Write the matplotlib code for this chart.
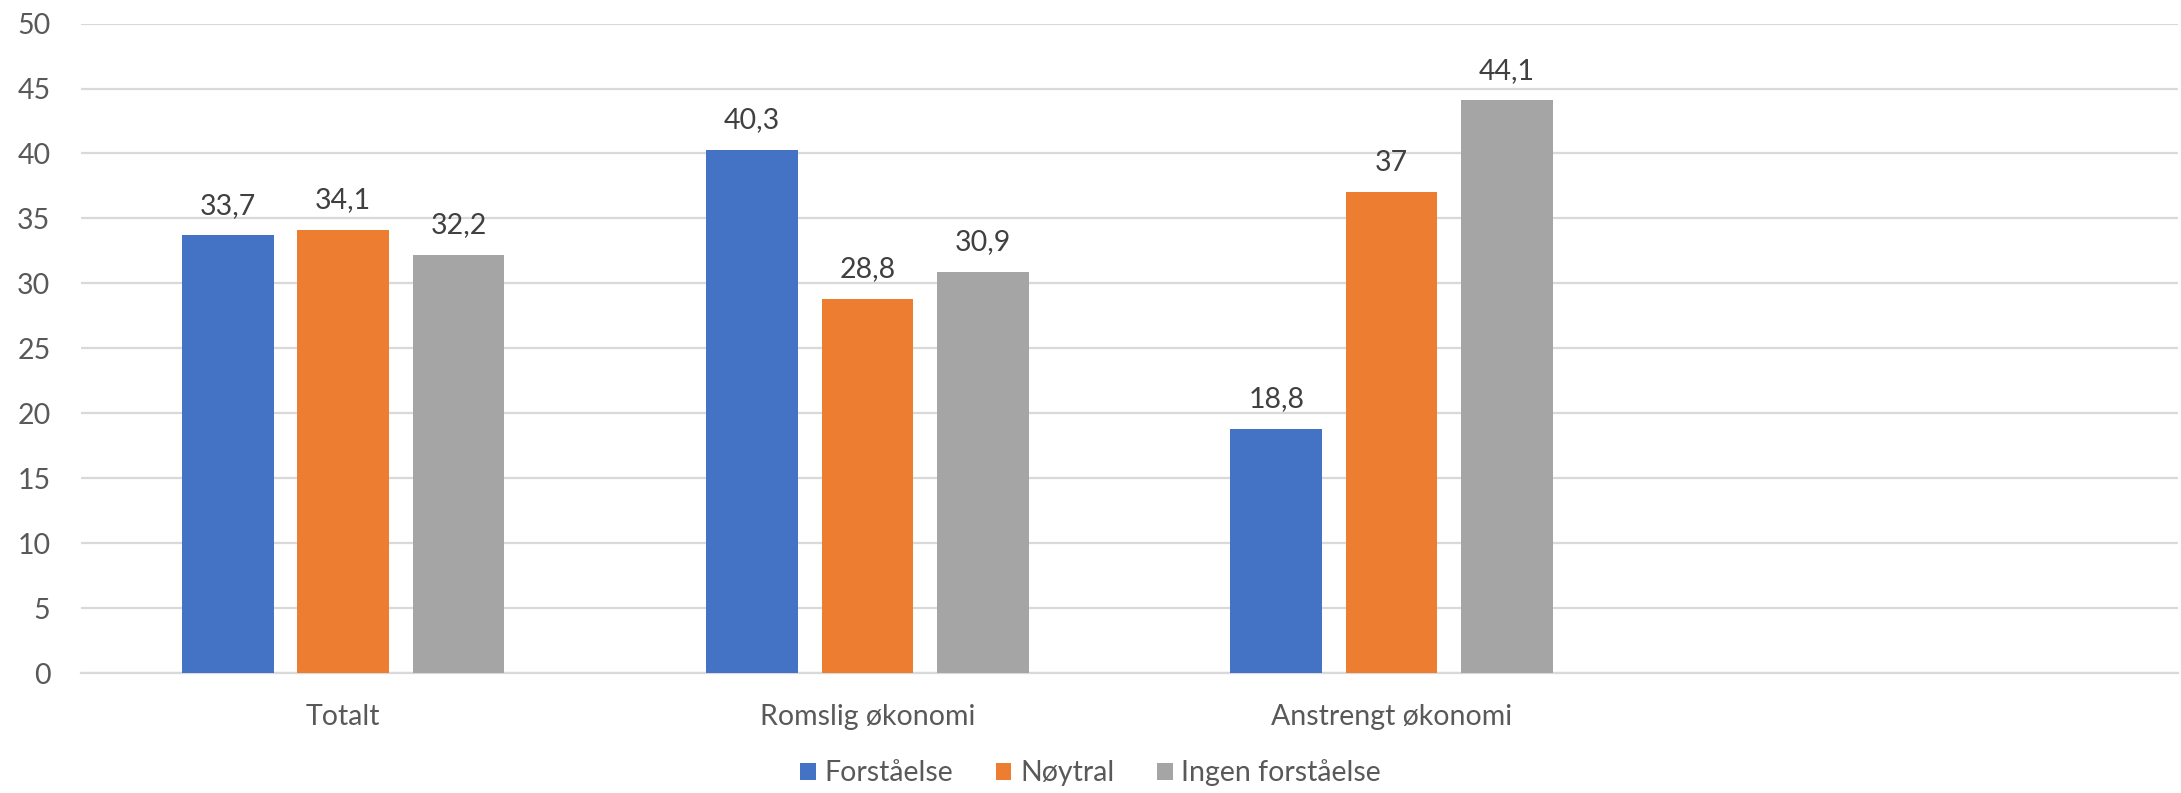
import matplotlib.pyplot as plt
import numpy as np

plt.rcParams['font.family'] = ['Lato', 'DejaVu Sans']

# data
categories = ["Totalt", "Romslig økonomi", "Anstrengt økonomi", ""]
series = ["Forståelse", "Nøytral", "Ingen forståelse"]
forstaaelse = [33.7, 40.3, 18.8]
noytral = [34.1, 28.8, 37.0]
ingen = [32.2, 30.9, 44.1]
colors = ["#4472C4", "#ED7D31", "#A5A5A5"]

txt = "#595959"
grid = "#D9D9D9"

fig = plt.figure(figsize=(21.81, 7.93), dpi=100)
ax = fig.add_axes([81 / 2181, 1 - 673 / 793, (2178 - 81) / 2181, (673 - 23.6) / 793])

x = np.arange(len(categories))
width = 0.175
step = 0.22

for k, (vals, name) in enumerate(zip([forstaaelse, noytral, ingen], series)):
    xs = x[:len(vals)] + (k - 1) * step
    bars = ax.bar(xs, vals, width, color=colors[k], label=name, zorder=3)
    for b, v in zip(bars, vals):
        lab = ("%g" % v).replace('.', ',')
        ax.annotate(lab, (b.get_x() + b.get_width() / 2, v), xytext=(0, 12),
                    textcoords='offset points', ha='center', va='bottom',
                    fontsize=20.5, color="#404040")

ax.set_xlim(-0.5, len(categories) - 0.5)
ax.set_ylim(0, 50)
ax.set_yticks(range(0, 51, 5))
ax.set_xticks(x)
ax.set_xticklabels(categories)
ax.yaxis.grid(True, color=grid, linewidth=1.6, zorder=0)
for s in ['top', 'right', 'left']:
    ax.spines[s].set_visible(False)
ax.spines['bottom'].set_color(grid)
ax.spines['bottom'].set_linewidth(1.6)
ax.tick_params(axis='both', length=0, labelsize=20.5, colors=txt)
ax.tick_params(axis='x', pad=22)
ax.tick_params(axis='y', pad=22)

leg = fig.legend(loc='center', bbox_to_anchor=(0.5, 1 - 773 / 793), ncol=3,
                 frameon=False, fontsize=20.5, handlelength=0.55, handleheight=0.55,
                 handletextpad=0.3, columnspacing=1.5)
for t in leg.get_texts():
    t.set_color(txt)

plt.savefig("out.png", dpi=100)
